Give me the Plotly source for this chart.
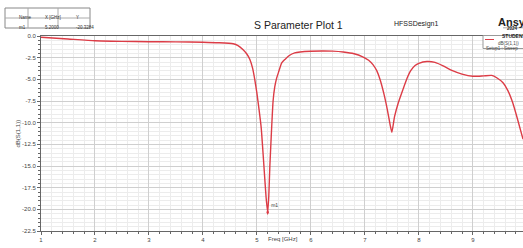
import plotly.graph_objects as go

freq = [1.0, 1.5, 2.0, 2.5, 3.0, 3.5, 4.0, 4.3, 4.56, 4.65, 4.74, 4.81, 4.87, 4.92, 4.96, 5.0,
        5.04, 5.08, 5.13, 5.17, 5.2, 5.22, 5.24, 5.27, 5.3, 5.33, 5.36, 5.4, 5.46, 5.52, 5.6,
        5.7, 5.8, 6.0, 6.2, 6.4, 6.6, 6.8, 6.96, 7.07, 7.15, 7.22, 7.28, 7.35, 7.42, 7.47, 7.5,
        7.55, 7.62, 7.71, 7.78, 7.85, 7.93, 8.0, 8.15, 8.3, 8.45, 8.6, 8.8, 9.0, 9.2, 9.35,
        9.45, 9.56, 9.65, 9.74, 9.82, 9.93]
s11_db = [-0.15, -0.35, -0.55, -0.62, -0.66, -0.68, -0.72, -0.78, -0.9, -1.1, -1.56, -2.05,
          -2.71, -3.7, -5.0, -6.6, -8.5, -10.6, -15.0, -18.6, -20.33, -18.5, -15.0, -11.0,
          -7.5, -5.9, -5.0, -4.2, -3.1, -2.7, -2.25, -1.95, -1.85, -1.76, -1.73, -1.75, -1.85,
          -2.05, -2.4, -2.8, -3.3, -4.0, -5.0, -6.6, -8.6, -10.3, -11.1, -9.3, -7.7, -6.1,
          -4.9, -4.0, -3.4, -3.15, -2.95, -3.05, -3.45, -3.95, -4.4, -4.65, -4.6, -4.55,
          -4.85, -5.4, -6.3, -7.7, -9.4, -11.9]

marker_name = "m1"
marker_x = 5.2
marker_y = -20.3284

x_ticks = [1, 2, 3, 4, 5, 6, 7, 8, 9]
y_ticks = [0.0, -2.5, -5.0, -7.5, -10.0, -12.5, -15.0, -17.5, -20.0, -22.5]

RED = "#dc3c46"
FONT = "Liberation Sans, Arial, sans-serif"
W, H = 523, 248
L, R, T, B = 41, 0, 36, 17

def px(xp):
    return (xp - L) / (W - L - R)

def py(yp):
    return (H - B - yp) / (H - T - B)

fig = go.Figure()
fig.add_trace(go.Scatter(x=freq, y=s11_db, mode="lines",
                         line=dict(color=RED, width=1.4, shape="spline", smoothing=0.5),
                         showlegend=False, hoverinfo="skip"))
fig.add_trace(go.Scatter(x=[marker_x], y=[marker_y], mode="markers+text",
                         marker=dict(symbol="diamond-tall", size=4, color=RED),
                         text=[marker_name], textposition="top right",
                         textfont=dict(size=5, color="#444", family=FONT),
                         showlegend=False, hoverinfo="skip"))

fig.update_xaxes(range=[1, 9.93], tickvals=x_ticks, ticktext=[str(v) for v in x_ticks],
                 showgrid=True, gridcolor="#cfcfcf", gridwidth=1,
                 minor=dict(dtick=0.2, showgrid=True, gridcolor="#ececec", ticklen=2,
                            tickcolor="#666"),
                 ticks="outside", ticklen=3, tickcolor="#666",
                 showline=True, linecolor="#666", linewidth=1, mirror=True,
                 tickfont=dict(size=6, color="#444", family=FONT), zeroline=False)
fig.update_yaxes(range=[-22.5, 0], tickvals=y_ticks, ticktext=[f"{v:.1f}" for v in y_ticks],
                 showgrid=True, gridcolor="#cfcfcf", gridwidth=1,
                 minor=dict(dtick=0.5, showgrid=True, gridcolor="#ececec", ticklen=2,
                            tickcolor="#666"),
                 ticks="outside", ticklen=3, tickcolor="#666",
                 showline=True, linecolor="#666", linewidth=1, mirror=True,
                 tickfont=dict(size=6, color="#444", family=FONT), zeroline=False)

ann = []
ann.append(dict(text="S Parameter Plot 1", x=px(298), y=py(17), xref="paper", yref="paper",
                showarrow=False, font=dict(size=10.5, color="#222", family=FONT)))
ann.append(dict(text="HFSSDesign1", x=px(440), y=py(18), xref="paper", yref="paper",
                showarrow=False, font=dict(size=7, color="#222", family=FONT)))
ann.append(dict(text="<b>Ansys</b>", x=px(497), y=py(15), xref="paper", yref="paper",
                xanchor="left", showarrow=False, borderpad=0,
                font=dict(size=11, color="#222", family=FONT)))
ann.append(dict(text="<b>2024</b>", x=px(506), y=py(24.5), xref="paper", yref="paper",
                xanchor="left", showarrow=False, borderpad=0,
                font=dict(size=4.5, color="#222", family=FONT)))
ann.append(dict(text="<b>STUDENT</b>", x=px(501), y=py(32), xref="paper", yref="paper",
                xanchor="left", showarrow=False, borderpad=0,
                font=dict(size=5, color="#222", family=FONT)))
ann.append(dict(text="dB(S(1,1))", x=px(12), y=0.5, xref="paper", yref="paper", textangle=-90,
                showarrow=False, font=dict(size=6, color="#444", family=FONT)))
ann.append(dict(text="Freq [GHz]", x=px(283), y=py(244), xref="paper", yref="paper",
                showarrow=False, font=dict(size=6, color="#444", family=FONT)))
# legend text
ann.append(dict(text="dB(S(1,1))", x=px(497), y=py(39.5), xref="paper", yref="paper",
                xanchor="left", showarrow=False, borderpad=0,
                font=dict(size=4.5, color="#444", family=FONT)))
ann.append(dict(text="Setup1 : Sweep", x=px(485), y=py(45), xref="paper", yref="paper",
                xanchor="left", showarrow=False, borderpad=0,
                font=dict(size=4.5, color="#444", family=FONT)))

# marker table
cols = [5, 28, 58, 90]
rows = [8, 18, 28]
headers = ["Name", "X [GHz]", "Y"]
values = [marker_name, f"{marker_x:.4f}", f"{marker_y:.4f}"]
shapes = []
shapes.append(dict(type="rect", xref="paper", yref="paper", x0=px(cols[0]), x1=px(cols[-1]),
                   y0=py(rows[0]), y1=py(rows[-1]), line=dict(color="#888", width=1),
                   fillcolor="white"))
shapes.append(dict(type="line", xref="paper", yref="paper", x0=px(cols[0]), x1=px(cols[-1]),
                   y0=py(rows[1]), y1=py(rows[1]), line=dict(color="#aaa", width=1)))
for c in cols[1:-1]:
    shapes.append(dict(type="line", xref="paper", yref="paper", x0=px(c), x1=px(c),
                       y0=py(rows[0]), y1=py(rows[-1]), line=dict(color="#aaa", width=1)))
for i in range(3):
    cx = (cols[i] + cols[i + 1]) / 2
    ann.append(dict(text=headers[i], x=px(cx), y=py(13), xref="paper", yref="paper",
                    showarrow=False, font=dict(size=4.5, color="#333", family=FONT)))
    ann.append(dict(text=values[i], x=px(cx), y=py(23), xref="paper", yref="paper",
                    showarrow=False, font=dict(size=4.5, color="#333", family=FONT)))

# legend box
shapes.append(dict(type="rect", xref="paper", yref="paper", x0=px(483), x1=px(530),
                   y0=py(35.5), y1=py(48.5), line=dict(color="#999", width=1), fillcolor="white"))
shapes.append(dict(type="line", xref="paper", yref="paper", x0=px(485), x1=px(494),
                   y0=py(39.5), y1=py(39.5), line=dict(color=RED, width=1)))
# underline under 2024
shapes.append(dict(type="line", xref="paper", yref="paper", x0=px(503), x1=px(523),
                   y0=py(27.8), y1=py(27.8), line=dict(color="#555", width=0.5)))

fig.update_layout(width=W, height=H, margin=dict(l=L, r=R, t=T, b=B),
                  paper_bgcolor="white", plot_bgcolor="white",
                  annotations=ann, shapes=shapes, showlegend=False)

fig.write_html("out.html", config={"displayModeBar": False},
               post_script="document.body.style.margin='0';document.body.style.overflow='hidden';")
